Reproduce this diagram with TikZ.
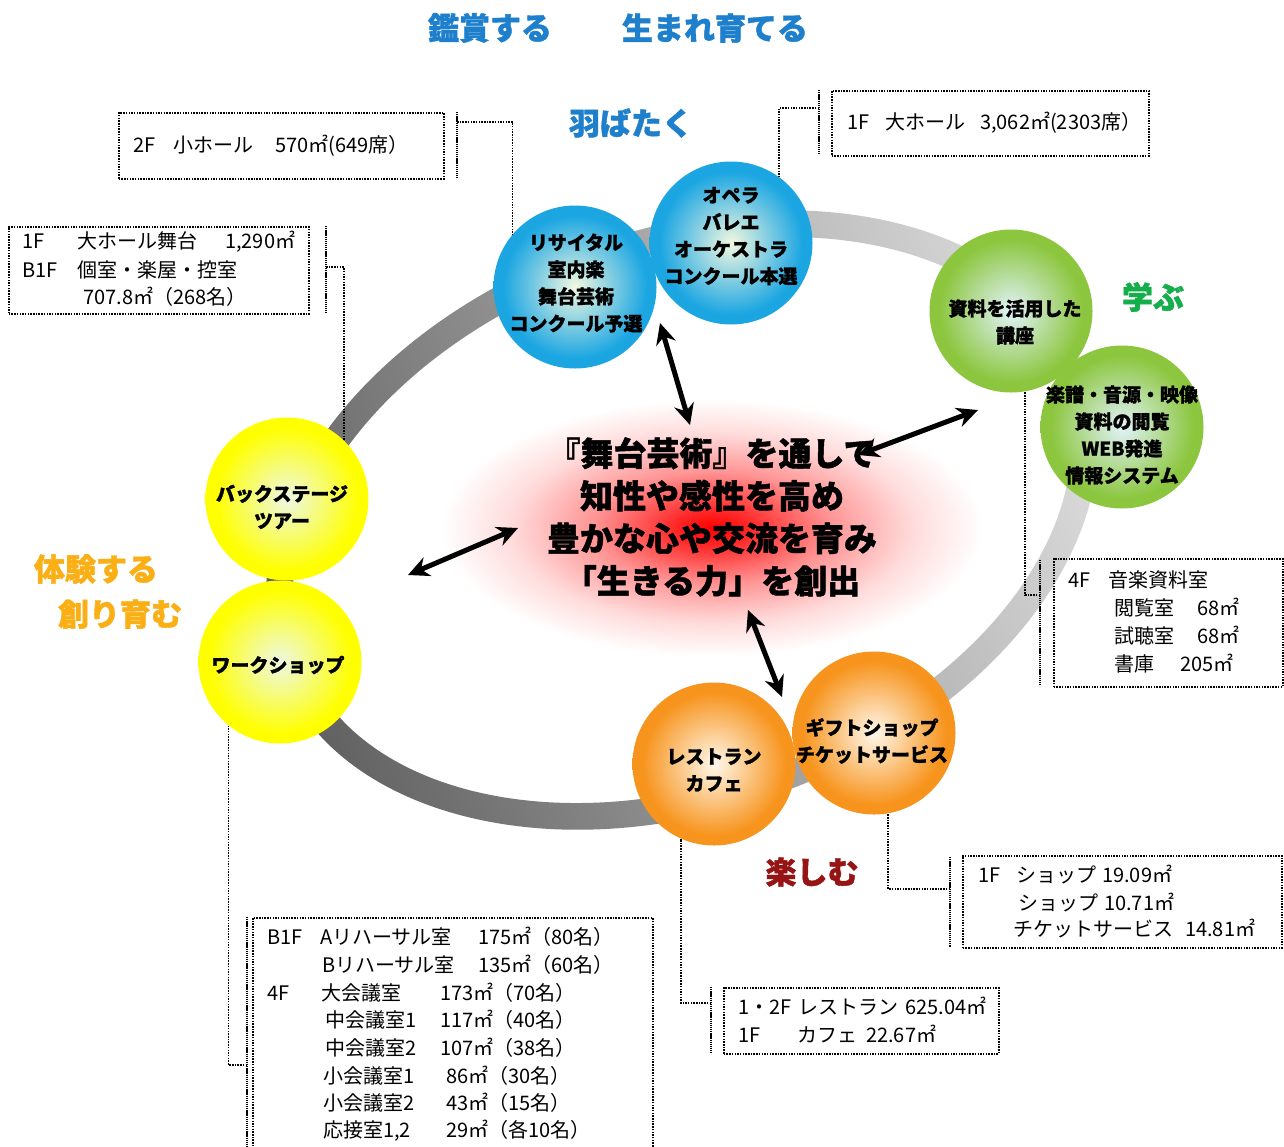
\documentclass[tikz,border=0pt]{standalone}
\usepackage{fontspec}
\newfontfamily\jp{Noto Sans CJK JP}
\newfontfamily\jph{Noto Sans CJK JP}[BoldFeatures={FakeBold=1.3}]
\newcommand{\heavy}{\jph\bfseries}
\usetikzlibrary{arrows.meta}
\definecolor{ballblue}{RGB}{27,166,226}
\definecolor{ballbluec}{RGB}{242,248,225}
\definecolor{ballgreen}{RGB}{140,198,62}
\definecolor{ballgreenc}{RGB}{225,243,250}
\definecolor{ballyellow}{RGB}{255,255,0}
\definecolor{ballyellowc}{RGB}{238,248,228}
\definecolor{ballorange}{RGB}{247,148,29}
\definecolor{ballorangec}{RGB}{255,248,235}
\definecolor{ringdark}{RGB}{95,95,95}
\definecolor{ringlight}{RGB}{222,222,222}
\definecolor{hblue}{RGB}{30,128,205}
\definecolor{hgreen}{RGB}{20,175,75}
\definecolor{horange}{RGB}{250,175,20}
\definecolor{hred}{RGB}{150,20,20}
\pgfdeclareradialshading{shblue}{\pgfpoint{0bp}{0bp}}{color(0bp)=(ballbluec); color(22bp)=(ballblue); color(50bp)=(ballblue)}
\pgfdeclareradialshading{shgreen}{\pgfpoint{0bp}{0bp}}{color(0bp)=(ballgreenc); color(22bp)=(ballgreen); color(50bp)=(ballgreen)}
\pgfdeclareradialshading{shyellow}{\pgfpoint{0bp}{0bp}}{color(0bp)=(ballyellowc); color(22bp)=(ballyellow); color(50bp)=(ballyellow)}
\pgfdeclareradialshading{shorange}{\pgfpoint{0bp}{0bp}}{color(0bp)=(ballorangec); color(22bp)=(ballorange); color(50bp)=(ballorange)}
\pgfdeclareradialshading{redglow}{\pgfpoint{0bp}{0bp}}{color(0bp)=(red); color(3bp)=(red!85!white); color(10bp)=(red!42!white); color(17bp)=(red!14!white); color(23bp)=(white); color(50bp)=(white)}
\newcommand{\sg}[2]{\makebox[#1pt][l]{#2}}
\newcommand{\tl}[4]{\node[boxtext] (#1) at (#2,#3) {#4};}
\tikzset{
  ball/.style={circle, shade, shading=#1, minimum size=163pt, inner sep=0pt},
  balltext/.style={align=center, inner sep=0pt, font=\heavy\fontsize{19}{27}\selectfont},
  head/.style={inner sep=0pt, font=\heavy\fontsize{31}{31}\selectfont},
  boxtext/.style={anchor=base west, inner sep=0pt, font=\jp\fontsize{20}{24}\selectfont},
  infobox/.style={draw, line width=1.5pt, dash pattern=on 1.5pt off 1.2pt, rectangle, inner sep=0pt, anchor=north west},
  bar/.style={line width=2.6pt, dash pattern=on 1.3pt off 0.8pt},
  conn/.style={line width=1.5pt, dash pattern=on 1.5pt off 1.2pt},
  dblarrow/.style={{Stealth[length=21pt,width=20pt]}-{Stealth[length=21pt,width=20pt]}, line width=5pt},
}
\begin{document}
\begin{tikzpicture}[x=1pt,y=-1pt]
\useasboundingbox (0,0) rectangle (1284,1146);
\fill[white] (0,0) rectangle (1284,1146);

% ring
\shade[even odd rule, top color=ringdark, bottom color=ringlight, shading angle=110]
  [rotate around={20:(682,520)}]
  (682,520) ellipse [x radius=430pt, y radius=290pt]
  (682,520) ellipse [x radius=403pt, y radius=263pt];

% glow
\shade[shading=redglow] (712,528) ellipse [x radius=295pt, y radius=140pt];

% headings
\node[head, text=hblue] (h1) at (490,28) {鑑賞する};
\node[head, text=hblue] (h2) at (715,28) {生まれ育てる};
\node[head, text=hblue] (h3) at (631,123) {羽ばたく};
\node[head, text=hgreen] (h4) at (1153,297) {学ぶ};
\node[head, text=horange] (h5) at (96,569) {体験する};
\node[head, text=horange] (h6) at (120,614) {創り育む};
\node[head, text=hred] (h7) at (812,872) {楽しむ};

% info boxes
\node[infobox, minimum width=325pt, minimum height=66pt] (box1) at (118,112) {};
\node[infobox, minimum width=317pt, minimum height=65pt] (box2) at (831,90) {};
\node[infobox, minimum width=300pt, minimum height=87pt] (box3) at (8,226) {};
\node[infobox, minimum width=229pt, minimum height=128pt] (box4) at (1053,558) {};
\node[infobox, minimum width=319pt, minimum height=92pt] (box5) at (962,855) {};
\node[infobox, minimum width=275pt, minimum height=66pt] (box6) at (723,987) {};
\node[infobox, minimum width=400pt, minimum height=250pt] (box7) at (252,917) {};

% bars
\coordinate (b1t) at (457,112); \coordinate (b1b) at (457,178);
\coordinate (b2t) at (819,90); \coordinate (b2b) at (819,155);
\coordinate (b3t) at (326,226); \coordinate (b3b) at (326,313);
\coordinate (b4t) at (1040,560); \coordinate (b4b) at (1040,686);
\coordinate (b5t) at (950,857); \coordinate (b5b) at (950,947);
\coordinate (b6t) at (711,987); \coordinate (b6b) at (711,1053);
\coordinate (b7t) at (247,917); \coordinate (b7b) at (247,1160);
\foreach \i in {1,...,7} {\draw[bar] (b\i t) -- (b\i b);}

% box texts
\tl{t1}{133}{152}{\sg{40}{2F}\sg{102}{小ホール}570㎡(649席）}
\tl{t2}{847}{129}{\sg{38}{1F}\sg{95}{大ホール}3,062㎡(2303席）}
\tl{t3a}{22}{248}{\sg{55}{1F}\sg{148}{大ホール舞台}1,290㎡}
\tl{t3b}{22}{277}{\sg{55}{B1F}個室・楽屋・控室}
\tl{t3c}{83}{304}{707.8㎡（268名）}
\tl{t4a}{1068}{587}{\sg{40}{4F}音楽資料室}
\tl{t4b}{1114}{615}{\sg{83}{閲覧室}68㎡}
\tl{t4c}{1114}{643}{\sg{83}{試聴室}68㎡}
\tl{t4d}{1114}{671}{\sg{66}{書庫}205㎡}
\tl{t5a}{978}{882}{\sg{38}{1F}\sg{86}{ショップ}19.09㎡}
\tl{t5b}{1018}{910}{\sg{86}{ショップ}10.71㎡}
\tl{t5c}{1013}{936}{\sg{172}{チケットサービス}14.81㎡}
\tl{t6a}{738}{1014}{\sg{60}{1・2F}\sg{107}{レストラン}625.04㎡}
\tl{t6b}{738}{1042}{\sg{59}{1F}\sg{69}{カフェ}22.67㎡}
\tl{t7a}{267}{944}{\sg{53}{B1F}\sg{158}{Aリハーサル室}175㎡（80名）}
\tl{t7b}{322}{972}{\sg{156}{Bリハーサル室}135㎡（60名）}
\tl{t7c}{267}{1000}{\sg{54}{4F}\sg{119}{大会議室}173㎡（70名）}
\tl{t7d}{325}{1027}{\sg{115}{中会議室1}117㎡（40名）}
\tl{t7e}{325}{1055}{\sg{115}{中会議室2}107㎡（38名）}
\tl{t7f}{323}{1083}{\sg{123}{小会議室1}86㎡（30名）}
\tl{t7g}{323}{1110}{\sg{123}{小会議室2}43㎡（15名）}
\tl{t7h}{323}{1137}{\sg{123}{応接室1,2}29㎡（各10名）}

% balls
\node[ball=shblue] (opera) at (731,243) {};
\node[ball=shblue] (recital) at (575,287) {};
\node[ball=shgreen] (lecture) at (1011,311) {};
\node[ball=shgreen] (library) at (1122,427) {};
\node[ball=shyellow] (backstage) at (287,499) {};
\node[ball=shyellow] (workshop) at (280,662) {};
\node[ball=shorange] (restaurant) at (714,764) {};
\node[ball=shorange] (gift) at (874,733) {};

% connectors
\coordinate (c1) at (457,122);
\coordinate (c2) at (819,108);
\coordinate (c3) at (326,267);
\coordinate (c4) at (1040,595);
\coordinate (c5) at (950,889);
\coordinate (c6) at (711,1003);
\coordinate (c7) at (247,1065);
\draw[conn] (c1) -| (recital.140);
\draw[conn] (c2) -| (opera.54);
\draw[conn] (c3) -| (backstage.46);
\draw[conn] (c4) -| (lecture.-80);
\draw[conn] (c5) -| (gift.-80);
\draw[conn] (c6) -| (restaurant.-114);
\draw[conn] (c7) -| (workshop.-129);

% ball labels
\node[balltext] (lrecital) at (576,283) {リサイタル\\室内楽\\舞台芸術\\コンクール予選};
\node[balltext] (lopera) at (731,236) {オペラ\\バレエ\\オーケストラ\\コンクール本選};
\node[balltext] (llecture) at (1015,322) {資料を活用した\\講座};
\node[balltext] (llibrary) at (1122,435) {楽譜・音源・映像\\資料の閲覧\\WEB発進\\情報システム};
\node[balltext] (lbackstage) at (282,507) {バックステージ\\ツアー};
\node[balltext] (lworkshop) at (278,665) {ワークショップ};
\node[balltext] (lrestaurant) at (714,770) {レストラン\\カフェ};
\node[balltext] (lgift) at (872,741) {ギフトショップ\\チケットサービス};

% centre text
\node[align=center, inner sep=0pt, font=\heavy\fontsize{33}{42.5}\selectfont] (core) at (712,517)
  {『舞台芸術』を通して\\知性や感性を高め\\豊かな心や交流を育み\\「生きる力」を創出};

% arrows
\coordinate (a1s) at (660,323); \coordinate (a1e) at (690,425);
\coordinate (a2s) at (858,455); \coordinate (a2e) at (978,410);
\coordinate (a3s) at (408,575); \coordinate (a3e) at (518,528);
\coordinate (a4s) at (748,610); \coordinate (a4e) at (782,697);
\draw[dblarrow] (a1s) -- (a1e);
\draw[dblarrow] (a2s) -- (a2e);
\draw[dblarrow] (a3s) -- (a3e);
\draw[dblarrow] (a4s) -- (a4e);
\end{tikzpicture}
\end{document}
